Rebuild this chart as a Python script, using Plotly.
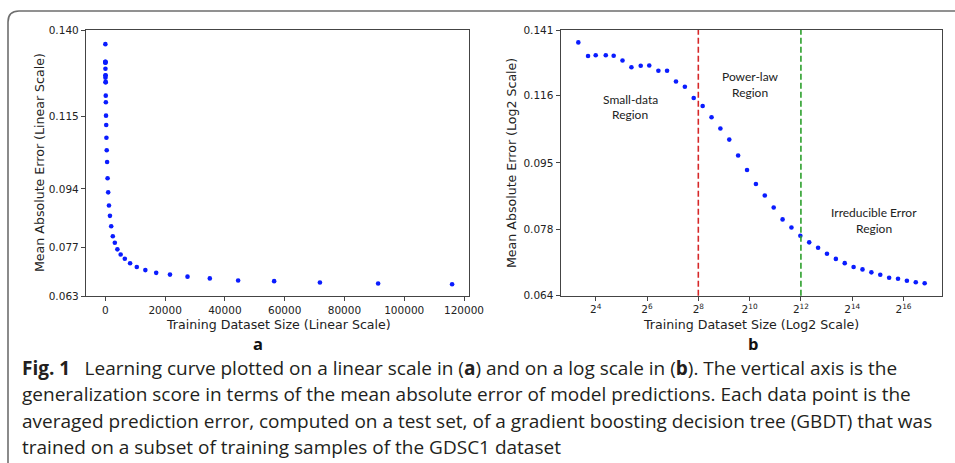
import plotly.graph_objects as go

# ---------------- data ----------------
train_size = [10, 13, 16, 21, 26, 33, 42, 54, 68, 87,
              110, 140, 178, 226, 288, 366, 465, 591, 751, 955,
              1214, 1544, 1963, 2495, 3172, 4032, 5125, 6515, 8282, 10528,
              13384, 17013, 21628, 27493, 34949, 44427, 56476, 71792, 91262, 116012]
mae = [0.1359, 0.1305, 0.1308, 0.1308, 0.1306, 0.1288, 0.1262, 0.1268, 0.1269, 0.1249,
       0.1249, 0.1210, 0.1191, 0.1152, 0.1125, 0.1088, 0.1052, 0.1018, 0.0971, 0.0930,
       0.0892, 0.0862, 0.0832, 0.0803, 0.0784, 0.0765, 0.0750, 0.0738, 0.0725, 0.0714,
       0.0705, 0.0697, 0.0692, 0.0686, 0.0681, 0.0675, 0.0673, 0.0669, 0.0666, 0.0664]

lin_y_ticks = [0.063, 0.077, 0.094, 0.115, 0.140]
lin_x_ticks = [0, 20000, 40000, 60000, 80000, 100000, 120000]
log_y_ticks = [0.064, 0.078, 0.095, 0.116, 0.141]
log_x_exps = [4, 6, 8, 10, 12, 14, 16]
small_data_edge = 256
irreducible_edge = 4096

caption_lines = [
    "<b>Fig. 1</b>\u2002 Learning curve plotted on a linear scale in (<b>a</b>) and on a log scale in (<b>b</b>). The vertical axis is the",
    "generalization score in terms of the mean absolute error of model predictions. Each data point is the",
    "averaged prediction error, computed on a test set, of a gradient boosting decision tree (GBDT) that was",
    "trained on a subset of training samples of the GDSC1 dataset",
]

# ---------------- layout helpers ----------------
W, H = 955, 463
def px(x):
    return x / W
def py(y):
    return 1 - y / H

MPL = "DejaVu Sans"
TXT = "#222222"
AX = "#444444"

fig = go.Figure()
fig.add_trace(go.Scatter(x=train_size, y=mae, mode="markers",
                         marker=dict(color="#0a1cff", size=4.6),
                         xaxis="x", yaxis="y", showlegend=False))
fig.add_trace(go.Scatter(x=train_size, y=mae, mode="markers",
                         marker=dict(color="#0a1cff", size=4.6),
                         xaxis="x2", yaxis="y2", showlegend=False))

axis_common = dict(showline=True, linecolor=AX, linewidth=1.3, mirror=True,
                   ticks="outside", ticklen=4, tickcolor=AX, tickwidth=1,
                   showgrid=False, zeroline=False, automargin=False,
                   tickfont=dict(family=MPL, size=10.5, color=TXT))

fig.update_layout(
    width=W, height=H,
    margin=dict(l=0, r=0, t=0, b=0),
    paper_bgcolor="white", plot_bgcolor="white",
    xaxis=dict(domain=[px(86), px(468.7)], range=[-6470, 121570],
               tickvals=lin_x_ticks, ticktext=[str(v) for v in lin_x_ticks],
               anchor="y", **axis_common),
    yaxis=dict(domain=[py(296), py(30)], range=[0.063, 0.140],
               tickvals=lin_y_ticks, ticktext=["%.3f" % v for v in lin_y_ticks],
               anchor="x", **axis_common),
    xaxis2=dict(domain=[px(560.7), px(942)], type="log",
                range=[2.635 * 0.30103, 17.5 * 0.30103],
                tickvals=[2 ** e for e in log_x_exps],
                ticktext=["2<sup>%d</sup>" % e for e in log_x_exps],
                anchor="y2", **axis_common),
    yaxis2=dict(domain=[py(295.7), py(30)], type="log",
                range=[-1.19382, -0.85078],
                tickvals=log_y_ticks, ticktext=["%.3f" % v for v in log_y_ticks],
                anchor="x2", **axis_common),
)

# region boundaries
fig.add_shape(type="line", xref="x2", yref="y2 domain", x0=small_data_edge, x1=small_data_edge,
              y0=0, y1=1, line=dict(color="#d62728", width=1.6, dash="6px,3px"))
fig.add_shape(type="line", xref="x2", yref="y2 domain", x0=irreducible_edge, x1=irreducible_edge,
              y0=0, y1=1, line=dict(color="#2ca02c", width=1.6, dash="6px,3px"))

# outer rounded frame
r = 11
path = (f"M {px(8)},{py(470)} L {px(8)},{py(11 + r)} "
        f"Q {px(8)},{py(11)} {px(8 + r)},{py(11)} L {px(960)},{py(11)}")
fig.add_shape(type="path", xref="paper", yref="paper", path=path,
              line=dict(color="#6e6e6e", width=1.6))

ann = []
def text(x, y, s, size, family=MPL, angle=0, xanchor="center", color=TXT):
    ann.append(dict(x=px(x), y=py(y), xref="paper", yref="paper", text=s, showarrow=False,
                    font=dict(family=family, size=size, color=color), textangle=angle,
                    xanchor=xanchor, yanchor="middle"))

# axis titles
TS = 12.6
text(278, 324, "Training Dataset Size (Linear Scale)", TS)
text(40, 163, "Mean Absolute Error (Linear Scale)", TS, angle=-90)
text(751, 324, "Training Dataset Size (Log2 Scale)", TS)
text(512, 163, "Mean Absolute Error (Log2 Scale)", TS, angle=-90)

# region labels
REG = "Lato"
RS = 12
text(630, 99, "Small-data", RS, family=REG)
text(630, 114.7, "Region", RS, family=REG)
text(750, 77, "Power-law", RS, family=REG)
text(750, 92.7, "Region", RS, family=REG)
text(874, 212.7, "Irreducible Error", RS, family=REG)
text(874, 228.3, "Region", RS, family=REG)

# panel letters
text(258, 343, "<b>a</b>", 16.5, family="Open Sans", color="#111111")
text(753, 343, "<b>b</b>", 16.5, family="Open Sans", color="#111111")

# caption
for i, line in enumerate(caption_lines):
    text(20, 368 + 26.3 * i, line, 19, family="Open Sans", xanchor="left", color="#231f20")

fig.update_layout(annotations=ann)
fig.write_html("out.html")
